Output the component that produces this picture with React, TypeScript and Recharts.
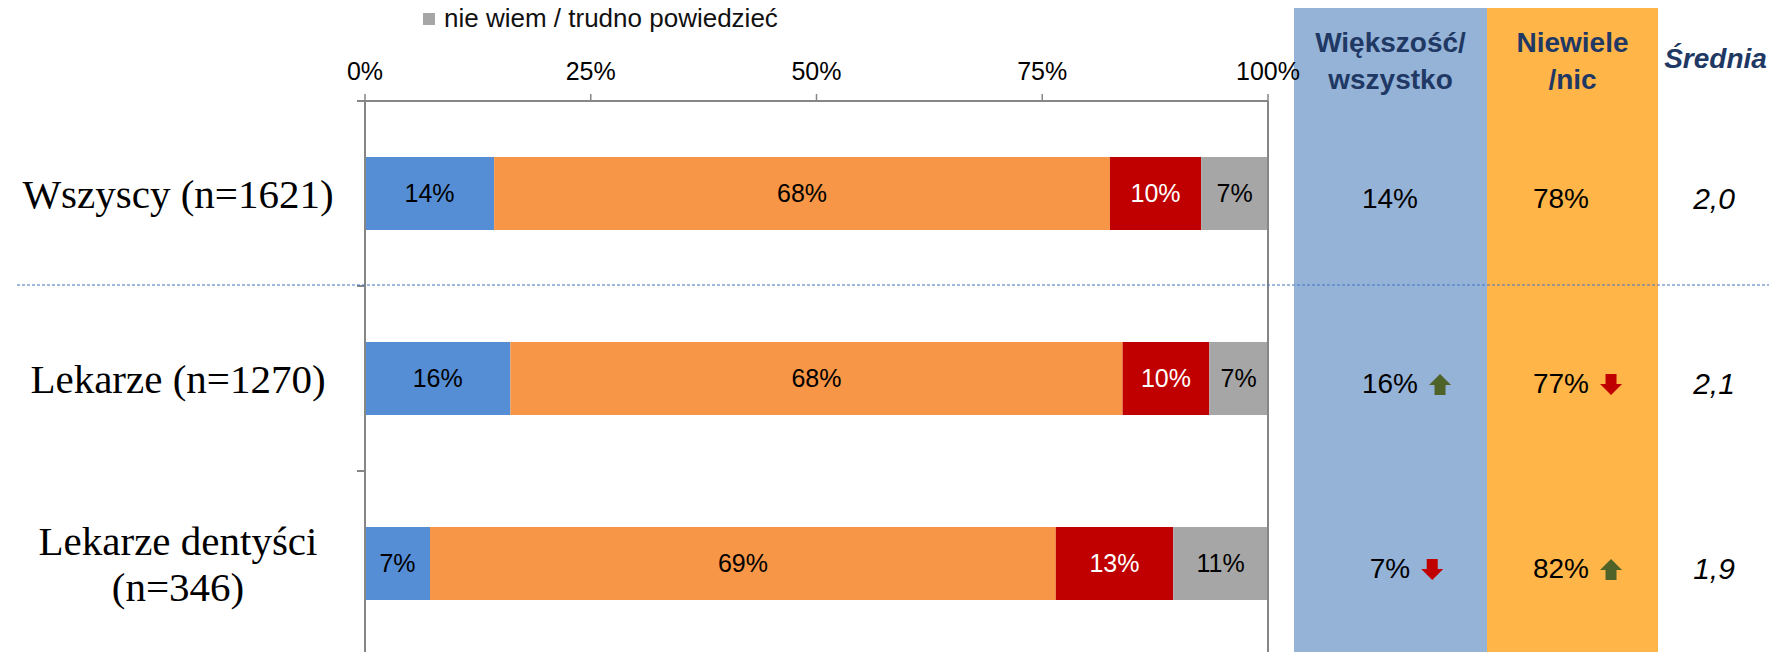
import { BarChart, Bar, XAxis, YAxis, Legend, LabelList } from "recharts";

const W = 1769;
const H = 652;
const SANS = "'Liberation Sans', Arial, sans-serif";
const SERIF = "'Liberation Serif', 'Times New Roman', serif";

// data
const categories = ["Wszyscy (n=1621)", "Lekarze (n=1270)", "Lekarze dentyści\n(n=346)"];
const mostAll = [14.3, 16.1, 7.2];
const little = [68.2, 67.8, 69.3];
const nothing = [10.1, 9.6, 13.0];
const dontKnow = [7.4, 6.5, 10.5];
const xTicks = [0, 25, 50, 75, 100];

const majorityTotal = [14, 16, 7];
const littleTotal = [78, 77, 82];
const averages = [2.0, 2.1, 1.9];
const majorityTrend = ["", "up", "down"];
const littleTrend = ["", "down", "up"];

const data = categories.map((name, i) => ({
  name,
  mostAll: mostAll[i],
  little: little[i],
  nothing: nothing[i],
  dontKnow: dontKnow[i],
}));

// layout
const PLOT_TOP = 101;
const LEFT_W = 365;
const PLOT_RIGHT = 1268;
const BOTTOM = -4;
const BAND = (H - BOTTOM - PLOT_TOP) / categories.length;
const LABEL_X = 178;
const COL_MAJ = 1390;
const COL_LITTLE = 1561;
const COL_AVG = 1714;
const NAVY = "#1F3864";

const pct = (v: any) => `${Math.round(Number(v))}%`;

function Arrow({ cx, cy, dir }: { cx: number; cy: number; dir: string }) {
  if (!dir) return null;
  const s = dir === "up" ? 1 : -1;
  const pts = [
    [cx, cy - 10.5 * s],
    [cx + 11, cy + 0.5 * s],
    [cx + 5.5, cy + 0.5 * s],
    [cx + 5.5, cy + 10.5 * s],
    [cx - 5.5, cy + 10.5 * s],
    [cx - 5.5, cy + 0.5 * s],
    [cx - 11, cy + 0.5 * s],
  ]
    .map((p) => p.join(","))
    .join(" ");
  return <polygon points={pts} fill={dir === "up" ? "#4F6228" : "#C00000"} />;
}

function textWidth(s: string, size: number) {
  let w = 0;
  for (const c of s) w += c === "%" ? 0.889 : 0.556;
  return w * size;
}

function CategoryTick(props: any) {
  const { y, payload } = props;
  const lines = String(payload.value).split("\n");
  const lh = 46;
  const y0 = y - ((lines.length - 1) * lh) / 2;
  return (
    <g>
      <line x1={LEFT_W - 8} x2={LEFT_W} y1={y - BAND / 2} y2={y - BAND / 2} stroke="#868686" strokeWidth={2} />
      <line x1={LEFT_W - 8} x2={LEFT_W} y1={y + BAND / 2} y2={y + BAND / 2} stroke="#868686" strokeWidth={2} />
      {lines.map((l, k) => (
        <text
          key={k}
          x={LABEL_X}
          y={y0 + k * lh}
          textAnchor="middle"
          dominantBaseline="central"
          fontFamily={SERIF}
          fontSize={41}
          fill="#000"
        >
          {l}
        </text>
      ))}
    </g>
  );
}

function PanelTick(props: any) {
  const { y, index } = props;
  const i = index;
  const size = 28;
  const ty = y + 5;
  const maj = `${majorityTotal[i]}%`;
  const lit = `${littleTotal[i]}%`;
  return (
    <g fontFamily={SANS} fill="#000">
      <text x={COL_MAJ} y={ty} textAnchor="middle" dominantBaseline="central" fontSize={size}>
        {maj}
      </text>
      <Arrow cx={COL_MAJ + textWidth(maj, size) / 2 + 22} cy={ty + 1} dir={majorityTrend[i]} />
      <text x={COL_LITTLE} y={ty} textAnchor="middle" dominantBaseline="central" fontSize={size}>
        {lit}
      </text>
      <Arrow cx={COL_LITTLE + textWidth(lit, size) / 2 + 22} cy={ty + 1} dir={littleTrend[i]} />
      <text
        x={COL_AVG}
        y={ty}
        textAnchor="middle"
        dominantBaseline="central"
        fontSize={30}
        fontStyle="italic"
      >
        {averages[i].toFixed(1).replace(".", ",")}
      </text>
    </g>
  );
}

function LegendContent({ payload }: any) {
  const items = (payload || []).filter((p: any) => p.type !== "none");
  return (
    <div style={{ display: "flex", alignItems: "center", fontFamily: SANS, fontSize: 26, color: "#111" }}>
      {items.map((p: any) => (
        <div key={p.value} style={{ display: "flex", alignItems: "center", whiteSpace: "nowrap" }}>
          <span style={{ width: 12, height: 12, background: p.color, display: "inline-block", marginRight: 9 }} />
          <span>{p.value}</span>
        </div>
      ))}
    </div>
  );
}

const header: React.CSSProperties = {
  position: "absolute",
  top: 24,
  textAlign: "center",
  fontFamily: SANS,
  fontWeight: 700,
  fontSize: 28,
  lineHeight: "37px",
  color: NAVY,
};

export default function App() {
  return (
    <div style={{ position: "absolute", left: 0, top: 0, width: W, height: H, background: "#fff", overflow: "hidden" }}>
      <div style={{ position: "absolute", left: 1294, top: 8, width: 193, height: H - 8, background: "#95B3D7" }} />
      <div style={{ position: "absolute", left: 1487, top: 8, width: 171, height: H - 8, background: "#FFB547" }} />
      <div style={{ ...header, left: 1294, width: 193 }}>
        Większość/
        <br />
        wszystko
      </div>
      <div style={{ ...header, left: 1487, width: 171 }}>
        Niewiele
        <br />
        /nic
      </div>
      <div style={{ ...header, top: 40, left: 1662, width: 107, fontStyle: "italic" }}>Średnia</div>

      <div style={{ position: "absolute", left: 0, top: 0 }}>
        <BarChart
          width={W}
          height={H}
          data={data}
          layout="vertical"
          barSize={73}
          margin={{ top: 0, right: 0, bottom: BOTTOM, left: 0 }}
        >
          <XAxis
            type="number"
            orientation="top"
            domain={[0, 100]}
            ticks={xTicks}
            tickFormatter={(v) => `${v}%`}
            height={PLOT_TOP}
            tickSize={7}
            tickMargin={14}
            axisLine={{ stroke: "#868686", strokeWidth: 2 }}
            tickLine={{ stroke: "#868686", strokeWidth: 1.5 }}
            tick={{ fontSize: 25, fill: "#000", fontFamily: SANS }}
          />
          <YAxis
            yAxisId="left"
            type="category"
            dataKey="name"
            width={LEFT_W}
            axisLine={{ stroke: "#868686", strokeWidth: 2 }}
            tickLine={false}
            tick={<CategoryTick />}
            interval={0}
          />
          <YAxis
            yAxisId="right"
            orientation="right"
            type="category"
            dataKey="name"
            width={W - PLOT_RIGHT}
            axisLine={{ stroke: "#868686", strokeWidth: 2 }}
            tickLine={false}
            tick={<PanelTick />}
            interval={0}
          />
          <Legend
            layout="horizontal"
            verticalAlign="middle"
            align="center"
            content={<LegendContent />}
            wrapperStyle={{ top: 3, left: 423, width: 420, height: 34 }}
          />
          <Bar yAxisId="left" dataKey="mostAll" name="większość / wszystko" stackId="a" fill="#558ED5" legendType="none" isAnimationActive={false}>
            <LabelList dataKey="mostAll" position="center" formatter={pct} fill="#000" fontSize={25} fontFamily={SANS} />
          </Bar>
          <Bar yAxisId="left" dataKey="little" name="niewiele" stackId="a" fill="#F79646" legendType="none" isAnimationActive={false}>
            <LabelList dataKey="little" position="center" formatter={pct} fill="#000" fontSize={25} fontFamily={SANS} />
          </Bar>
          <Bar yAxisId="left" dataKey="nothing" name="nic" stackId="a" fill="#C00000" legendType="none" isAnimationActive={false}>
            <LabelList dataKey="nothing" position="center" formatter={pct} fill="#fff" fontSize={25} fontFamily={SANS} />
          </Bar>
          <Bar yAxisId="left" dataKey="dontKnow" name="nie wiem / trudno powiedzieć" stackId="a" fill="#A6A6A6" isAnimationActive={false}>
            <LabelList dataKey="dontKnow" position="center" formatter={pct} fill="#000" fontSize={25} fontFamily={SANS} />
          </Bar>
        </BarChart>
      </div>

      <svg width={W} height={H} style={{ position: "absolute", left: 0, top: 0, pointerEvents: "none" }}>
        <line x1={17} x2={W} y1={PLOT_TOP + BAND - 1} y2={PLOT_TOP + BAND - 1} stroke="#4472C4" strokeWidth={1.2} strokeDasharray="3 2" />
      </svg>
    </div>
  );
}
